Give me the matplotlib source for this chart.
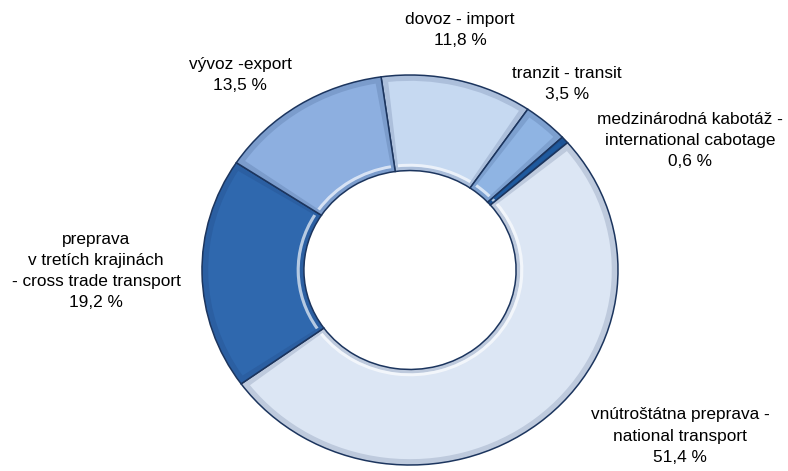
import matplotlib.pyplot as plt
from matplotlib.patches import Wedge
from matplotlib.colors import to_rgb

plt.rcParams['font.family'] = ['Liberation Sans Narrow', 'Liberation Sans', 'DejaVu Sans']

categories = ['dovoz - import', 'tranzit - transit',
              'medzinárodná kabotáž -\ninternational cabotage',
              'vnútroštátna preprava -\nnational transport',
              'preprava\nv tretích krajinách\n- cross trade transport',
              'vývoz -export']
shares = [11.8, 3.5, 0.6, 51.4, 19.2, 13.5]
colors = ['#C6D9F1', '#8FB4E3', '#1F5A9E', '#DCE6F4', '#2F68AE', '#8DAFE0']

# label anchor points in figure pixels (x, y from top)
label_pos = [(460, 30), (567, 84), (690, 141), (680, 436), (96, 271), (240, 75)]


def shade(c, f, target=(0.09, 0.18, 0.36)):
    r = to_rgb(c)
    return tuple(a + (b - a) * f for a, b in zip(r, target))


fig = plt.figure(figsize=(7.88, 4.71), dpi=100)
W, H = 788, 471
cx, cy, rx, ry = 410, 270, 208, 195
ax = fig.add_axes([(cx - rx) / W, (H - cy - ry) / H, 2 * rx / W, 2 * ry / H])

ring = 0.49
base_colors = [shade(c, 0.15) for c in colors]
wedges, _ = ax.pie(shares, colors=base_colors, startangle=98, counterclock=False,
                   radius=1.0,
                   wedgeprops=dict(width=ring, edgecolor='#1C355E', linewidth=1.1))

# bevel: inset face of each segment
for w, c in zip(wedges, colors):
    t1, t2 = w.theta1, w.theta2
    d = min(1.8, (t2 - t1) * 0.25)
    face = Wedge((0, 0), 0.97, t1 + d, t2 - d, width=ring - 0.05,
                 facecolor=c, edgecolor='none')
    ax.add_patch(face)
    hl = Wedge((0, 0), 1.0 - ring + 0.035, t1 + d, t2 - d, width=0.015,
               facecolor='white', edgecolor='none', alpha=0.65)
    ax.add_patch(hl)

ax.set_xlim(-1.0, 1.0)
ax.set_ylim(-1.0, 1.0)
ax.set_aspect('auto')
ax.axis('off')

for name, val, (px, py) in zip(categories, shares, label_pos):
    txt = name + '\n' + ('%.1f' % val).replace('.', ',') + ' %'
    fig.text(px / W, 1 - py / H, txt, ha='center', va='center',
             fontsize=12.4, linespacing=1.5, color='black')

fig.savefig('out.png', dpi=100)
